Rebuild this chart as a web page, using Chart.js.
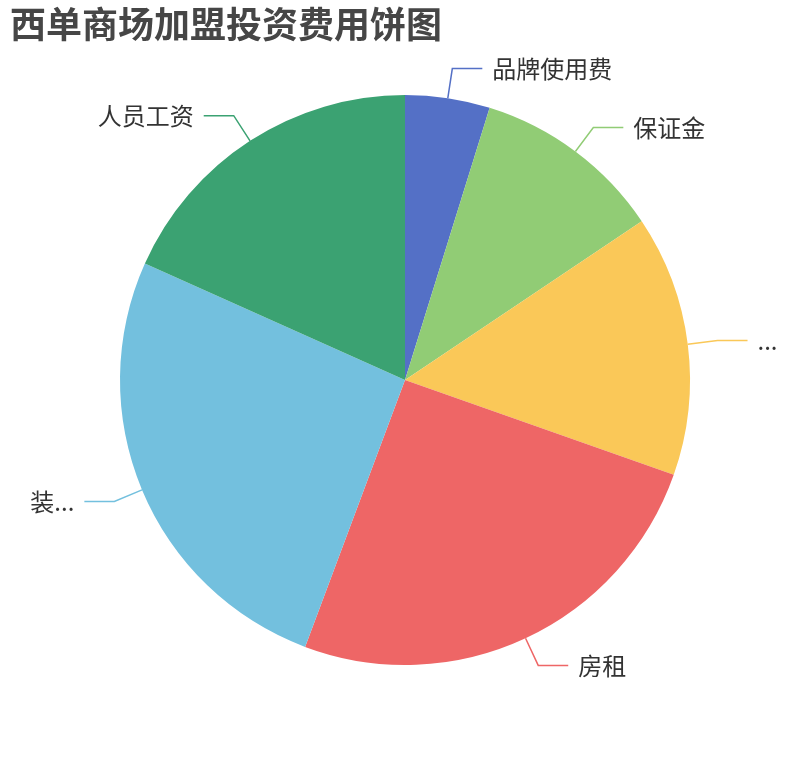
<!DOCTYPE html>
<html>
<head>
<meta charset="utf-8">
<script src="https://cdn.jsdelivr.net/npm/chart.js@4/dist/chart.umd.min.js"></script>
<style>
  html, body { margin: 0; padding: 0; background: #fff; }
  #wrap { width: 810px; height: 760px; position: relative; }
</style>
</head>
<body>
<div id="wrap"><canvas id="pie"></canvas></div>
<script>
// Slice names as shown in the picture (two of them are cut off there)
const categories = ['品牌使用费', '保证金', '...', '房租', '装...', '人员工资'];
// Share of each slice
const values = [4.8, 10.8, 14.8, 25.3, 26.0, 18.3];
const colors = ['#5470c6', '#91cc75', '#fac858', '#ee6666', '#73c0de', '#3ba272'];

const FONT = '"Noto Sans CJK SC", "Noto Sans", sans-serif';

// Draw outside labels with a bent leader line, echarts style
const outsideLabels = {
  id: 'outsideLabels',
  afterDatasetsDraw(chart) {
    const ctx = chart.ctx;
    const meta = chart.getDatasetMeta(0);
    ctx.save();
    ctx.font = '24px ' + FONT;
    ctx.textBaseline = 'middle';
    meta.data.forEach((arc, i) => {
      const { x, y, startAngle, endAngle, outerRadius } = arc.getProps(['x', 'y', 'startAngle', 'endAngle', 'outerRadius'], true);
      const mid = (startAngle + endAngle) / 2;
      const cos = Math.cos(mid), sin = Math.sin(mid);
      const r2 = outerRadius + 30;
      const x1 = x + cos * outerRadius, y1 = y + sin * outerRadius;
      const x2 = x + cos * r2, y2 = y + sin * r2;
      const right = cos >= 0;
      const x3 = x2 + (right ? 30 : -30);

      ctx.strokeStyle = colors[i];
      ctx.lineWidth = 1.5;
      ctx.beginPath();
      ctx.moveTo(x1, y1);
      ctx.lineTo(x2, y2);
      ctx.lineTo(x3, y2);
      ctx.stroke();

      ctx.fillStyle = '#333';
      ctx.textAlign = right ? 'left' : 'right';
      ctx.fillText(categories[i], x3 + (right ? 10 : -10), y2);
    });
    ctx.restore();
  }
};

new Chart(document.getElementById('pie'), {
  type: 'pie',
  data: {
    labels: categories,
    datasets: [{
      data: values,
      backgroundColor: colors,
      borderWidth: 0
    }]
  },
  options: {
    responsive: true,
    maintainAspectRatio: false,
    animation: false,
    layout: { padding: { top: 0, bottom: 95, left: 10, right: 10 } },
    plugins: {
      legend: { display: false },
      tooltip: { enabled: false },
      title: {
        display: true,
        text: '西单商场加盟投资费用饼图',
        align: 'start',
        color: '#464646',
        font: { family: FONT, size: 36, weight: 'bold', lineHeight: 1.2 },
        padding: { top: 3, bottom: 48.8 }
      }
    }
  },
  plugins: [outsideLabels]
});
</script>
</body>
</html>
